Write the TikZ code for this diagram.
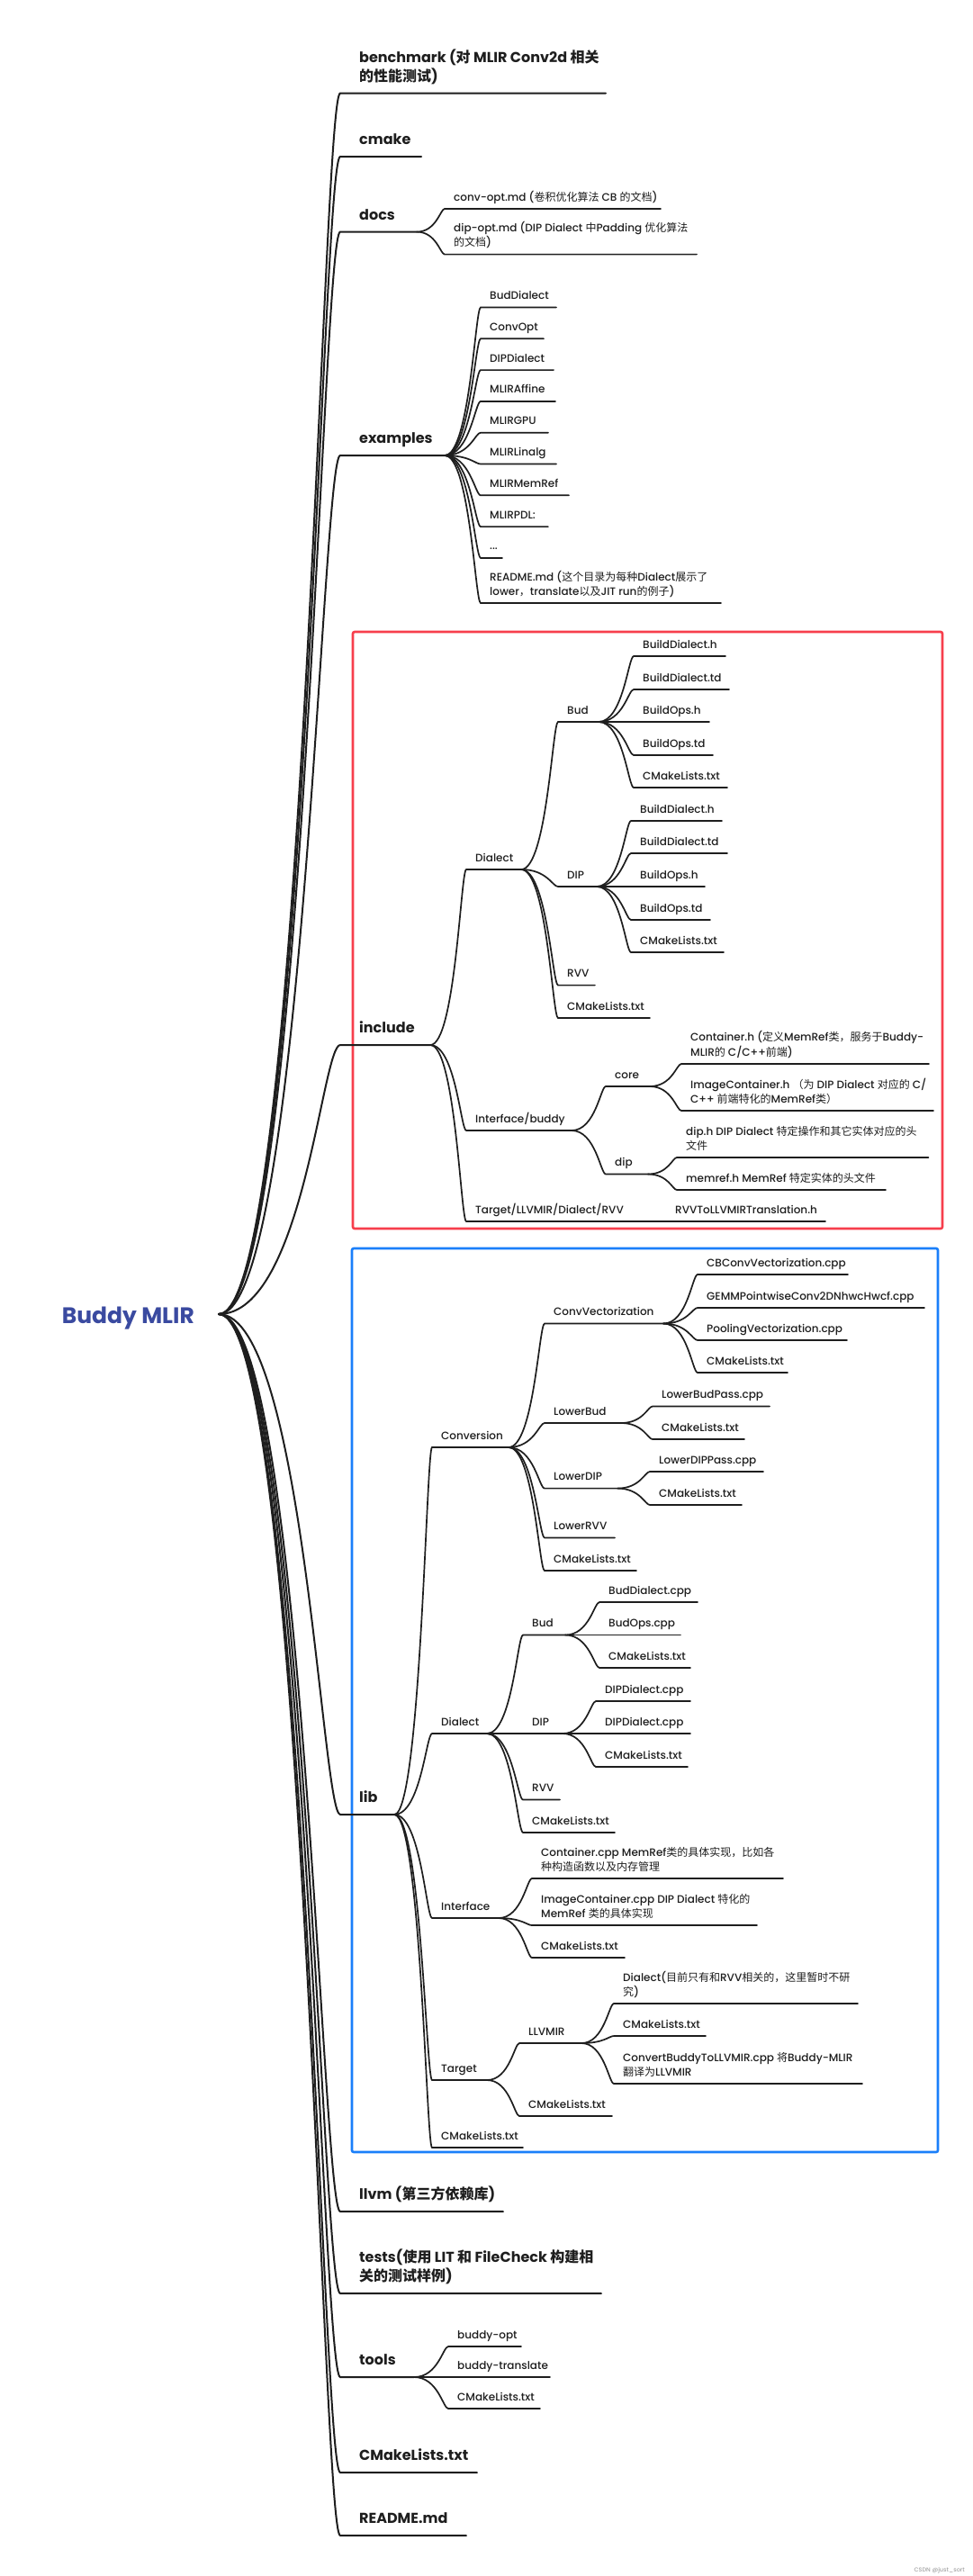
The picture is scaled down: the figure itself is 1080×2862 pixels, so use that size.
\documentclass[tikz,border=0pt]{standalone}
\usepackage{fontspec}
\setmainfont{Poppins}[UprightFont={* Medium}, BoldFont={* Bold}]
\newfontfamily\cjkfont{Noto Sans CJK SC}
\usetikzlibrary{calc}
\definecolor{ink}{HTML}{1E1E1E}
\definecolor{rootblue}{HTML}{3A4AA0}
\definecolor{boxred}{HTML}{F73E4C}
\definecolor{boxblue}{HTML}{1A7FFA}
\newcommand\zh[1]{{\cjkfont #1}}
\newcommand\ml[1]{\begin{tabular}[b]{@{}l@{}}#1\end{tabular}}
\tikzset{
  lonetext/.style={font=\fontsize{16}{21}\selectfont\bfseries, inner sep=0pt, anchor=base west, text=ink},
  ltwotext/.style={font=\fontsize{12}{16}\selectfont, inner sep=0pt, anchor=base west, text=ink},
  loneline/.style={draw=ink, line width=2pt, line cap=round},
  ltwoline/.style={draw=ink, line width=1.7pt, line cap=round},
  rootstyle/.style={font=\fontsize{25}{30}\selectfont\bfseries, inner sep=0pt, anchor=base east, text=rootblue},
  framebox/.style={line width=2.6pt, rounded corners=2pt},
}
% #1 name, #2 parent, #3 start x, #4 end x, #5 underline y, #6 text
\newcommand\tnodeA[6]{%
  \coordinate (#1-s) at (#3,#5);
  \coordinate (#1-e) at (#4,#5);
  \draw[loneline] let \p1=(#2-e), \p2=(#1-s) in (\p1) .. controls ({\x1+0.7*(\x2-\x1)},\y1) and ({\x2-0.15*(\x2-\x1)},\y2) .. (\p2) -- (#1-e);
  \node[lonetext] (#1) at ({#3+21},{#5-13.5}) {#6};
}
\newcommand\tnodeB[6]{%
  \coordinate (#1-s) at (#3,#5);
  \coordinate (#1-e) at (#4,#5);
  \draw[ltwoline] let \p1=(#2-e), \p2=(#1-s) in (\p1) .. controls ({\x1+0.7*(\x2-\x1)},\y1) and ({\x2-0.15*(\x2-\x1)},\y2) .. (\p2) -- (#1-e);
  \node[ltwotext] (#1) at ({#3+10},{#5-9}) {#6};
}
\begin{document}
\begin{tikzpicture}[x=1pt,y=-1pt]
\useasboundingbox (0,0) rectangle (1080,2862);
\fill[white] (0,0) rectangle (1080,2862);

% frames
\draw[framebox, draw=boxred] (392,702) rectangle (1047,1365);
\draw[framebox, draw=boxblue] (391,1387) rectangle (1042,2391);

% root
\node[rootstyle] (root) at (216,1470) {Buddy MLIR};
\coordinate (root-e) at (243,1460);

% level 1
\tnodeA{bench}{root}{378}{673}{103.6}{\ml{benchmark (\zh{对} MLIR Conv2d \zh{相关}\\\zh{的性能测试})}}
\tnodeA{cmake}{root}{378}{468}{174}{cmake}
\tnodeA{docs}{root}{378}{463}{257.6}{docs}
\tnodeA{examples}{root}{378}{494}{506}{examples}
\tnodeA{include}{root}{378}{478}{1161}{include}
\tnodeA{lib}{root}{378}{438}{2016}{lib}
\tnodeA{llvm}{root}{378}{559}{2457}{llvm (\zh{第三方依赖库})}
\tnodeA{tests}{root}{378}{668}{2548}{\ml{tests(\zh{使用} LIT \zh{和} FileCheck \zh{构建相}\\\zh{关的测试样例})}}
\tnodeA{tools}{root}{378}{460}{2641}{tools}
\tnodeA{cml}{root}{378}{530}{2747}{CMakeLists.txt}
\tnodeA{readme}{root}{378}{518}{2817}{README.md}

% docs
\tnodeB{convopt}{docs}{494}{734}{232}{conv-opt.md (\zh{卷积优化算法} CB \zh{的文档})}
\tnodeB{dipopt}{docs}{494}{774}{282.6}{\ml{dip-opt.md (DIP Dialect \zh{中}Padding \zh{优化算法}\\\zh{的文档})}}

% examples
\tnodeB{ex1}{examples}{534}{618}{341.5}{BudDialect}
\tnodeB{ex2}{examples}{534}{604}{376.3}{ConvOpt}
\tnodeB{ex3}{examples}{534}{615}{411.1}{DIPDialect}
\tnodeB{ex4}{examples}{534}{617}{445.9}{MLIRAffine}
\tnodeB{ex5}{examples}{534}{609}{480.7}{MLIRGPU}
\tnodeB{ex6}{examples}{534}{618}{515.5}{MLIRLinalg}
\tnodeB{ex7}{examples}{534}{632}{550.3}{MLIRMemRef}
\tnodeB{ex8}{examples}{534}{609}{585.1}{MLIRPDL:}
\tnodeB{ex9}{examples}{534}{558}{619.9}{...}
\tnodeB{ex10}{examples}{534}{801}{670}{\ml{README.md (\zh{这个目录为每种}Dialect\zh{展示了}\\lower\zh{，}translate\zh{以及}JIT run\zh{的例子})}}

% include
\tnodeB{idial}{include}{518}{579}{966}{Dialect}
\tnodeB{ibud}{idial}{620}{665}{802}{Bud}
\tnodeB{ibud1}{ibud}{704}{806}{729}{BuildDialect.h}
\tnodeB{ibud2}{ibud}{704}{810}{766}{BuildDialect.td}
\tnodeB{ibud3}{ibud}{704}{788}{802}{BuildOps.h}
\tnodeB{ibud4}{ibud}{704}{792}{839}{BuildOps.td}
\tnodeB{ibud5}{ibud}{704}{808}{875}{CMakeLists.txt}
\tnodeB{idip}{idial}{620}{663}{985}{DIP}
\tnodeB{idip1}{idip}{701}{802}{912}{BuildDialect.h}
\tnodeB{idip2}{idip}{701}{808}{948}{BuildDialect.td}
\tnodeB{idip3}{idip}{701}{783}{985}{BuildOps.h}
\tnodeB{idip4}{idip}{701}{789}{1022}{BuildOps.td}
\tnodeB{idip5}{idip}{701}{804}{1058}{CMakeLists.txt}
\tnodeB{irvv}{idial}{620}{661}{1094.6}{RVV}
\tnodeB{icml}{idial}{620}{722}{1131}{CMakeLists.txt}
\tnodeB{iif}{include}{518}{635}{1256}{Interface/buddy}
\tnodeB{icore}{iif}{673}{722}{1207}{core}
\tnodeB{icore1}{icore}{757}{1032}{1182}{\ml{Container.h (\zh{定义}MemRef\zh{类，服务于}Buddy-\\MLIR\zh{的} C/C++\zh{前端})}}
\tnodeB{icore2}{icore}{757}{1037}{1234}{\ml{ImageContainer.h \zh{（为} DIP Dialect \zh{对应的} C/\\C++ \zh{前端特化的}MemRef\zh{类）}}}
\tnodeB{idp}{iif}{673}{720}{1304.5}{dip}
\tnodeB{idp1}{idp}{752}{1031.5}{1286}{\ml{dip.h DIP Dialect \zh{特定操作和其它实体对应的头}\\\zh{文件}}}
\tnodeB{idp2}{idp}{752}{984}{1322}{memref.h MemRef \zh{特定实体的头文件}}
\tnodeB{itgt}{include}{518}{740}{1357}{Target/LLVMIR/Dialect/RVV}
\tnodeB{itgt1}{itgt}{740}{917}{1357}{RVVToLLVMIRTranslation.h}

% lib
\tnodeB{conv}{lib}{480}{565}{1608}{Conversion}
\tnodeB{cvec}{conv}{605}{737}{1470.5}{ConvVectorization}
\tnodeB{cvec1}{cvec}{775}{942}{1416}{CBConvVectorization.cpp}
\tnodeB{cvec2}{cvec}{775}{1027}{1453}{GEMMPointwiseConv2DNhwcHwcf.cpp}
\tnodeB{cvec3}{cvec}{775}{941}{1489}{PoolingVectorization.cpp}
\tnodeB{cvec4}{cvec}{775}{875}{1525}{CMakeLists.txt}
\tnodeB{lbud}{conv}{605}{690}{1581}{LowerBud}
\tnodeB{lbud1}{lbud}{725}{855}{1562.5}{LowerBudPass.cpp}
\tnodeB{lbud2}{lbud}{725}{827}{1599}{CMakeLists.txt}
\tnodeB{ldip}{conv}{605}{686}{1653.6}{LowerDIP}
\tnodeB{ldip1}{ldip}{722}{848}{1635}{LowerDIPPass.cpp}
\tnodeB{ldip2}{ldip}{722}{824}{1672}{CMakeLists.txt}
\tnodeB{lrvv}{conv}{605}{683}{1708.5}{LowerRVV}
\tnodeB{ccml}{conv}{605}{707}{1745}{CMakeLists.txt}
\tnodeB{ldial}{lib}{480}{541}{1926}{Dialect}
\tnodeB{lbud0}{ldial}{581}{628}{1816.5}{Bud}
\tnodeB{lbud01}{lbud0}{666}{775}{1780}{BudDialect.cpp}
\tnodeB{lbud02}{lbud0}{666}{756}{1816.5}{BudOps.cpp}
\tnodeB{lbud03}{lbud0}{666}{767}{1853}{CMakeLists.txt}
\tnodeB{ldip0}{ldial}{581}{625}{1926}{DIP}
\tnodeB{ldip01}{ldip0}{662}{767}{1890}{DIPDialect.cpp}
\tnodeB{ldip02}{ldip0}{662}{767}{1926}{DIPDialect.cpp}
\tnodeB{ldip03}{ldip0}{662}{764}{1963}{CMakeLists.txt}
\tnodeB{lrvv0}{ldial}{581}{622}{1999.5}{RVV}
\tnodeB{lcml0}{ldial}{581}{683}{2036}{CMakeLists.txt}
\tnodeB{lif}{lib}{480}{554}{2131}{Interface}
\tnodeB{lif1}{lif}{591}{870}{2087}{\ml{Container.cpp MemRef\zh{类的具体实现，比如各}\\\zh{种构造函数以及内存管理}}}
\tnodeB{lif2}{lif}{591}{841}{2139}{\ml{ImageContainer.cpp DIP Dialect \zh{特化的}\\MemRef \zh{类的具体实现}}}
\tnodeB{lif3}{lif}{591}{694}{2175}{CMakeLists.txt}
\tnodeB{ltgt}{lib}{480}{541}{2311}{Target}
\tnodeB{llvmir}{ltgt}{577}{646}{2270}{LLVMIR}
\tnodeB{llvmir1}{llvmir}{682}{953}{2226}{\ml{Dialect(\zh{目前只有和}RVV\zh{相关的，这里暂时不研}\\\zh{究})}}
\tnodeB{llvmir2}{llvmir}{682}{784}{2262}{CMakeLists.txt}
\tnodeB{llvmir3}{llvmir}{682}{958}{2315}{\ml{ConvertBuddyToLLVMIR.cpp \zh{将}Buddy-MLIR\\\zh{翻译为}LLVMIR}}
\tnodeB{ltcml}{ltgt}{577}{680}{2351}{CMakeLists.txt}
\tnodeB{lcml}{lib}{480}{581}{2386}{CMakeLists.txt}

% tools
\tnodeB{to1}{tools}{498}{579}{2607}{buddy-opt}
\tnodeB{to2}{tools}{498}{611}{2641}{buddy-translate}
\tnodeB{to3}{tools}{498}{600}{2676}{CMakeLists.txt}

% watermark
\node[font=\fontsize{6.5}{8}\selectfont, text=black!35, inner sep=0pt, anchor=base east] (wm) at (1072,2857) {CSDN @just\_sort};
\end{tikzpicture}
\end{document}
